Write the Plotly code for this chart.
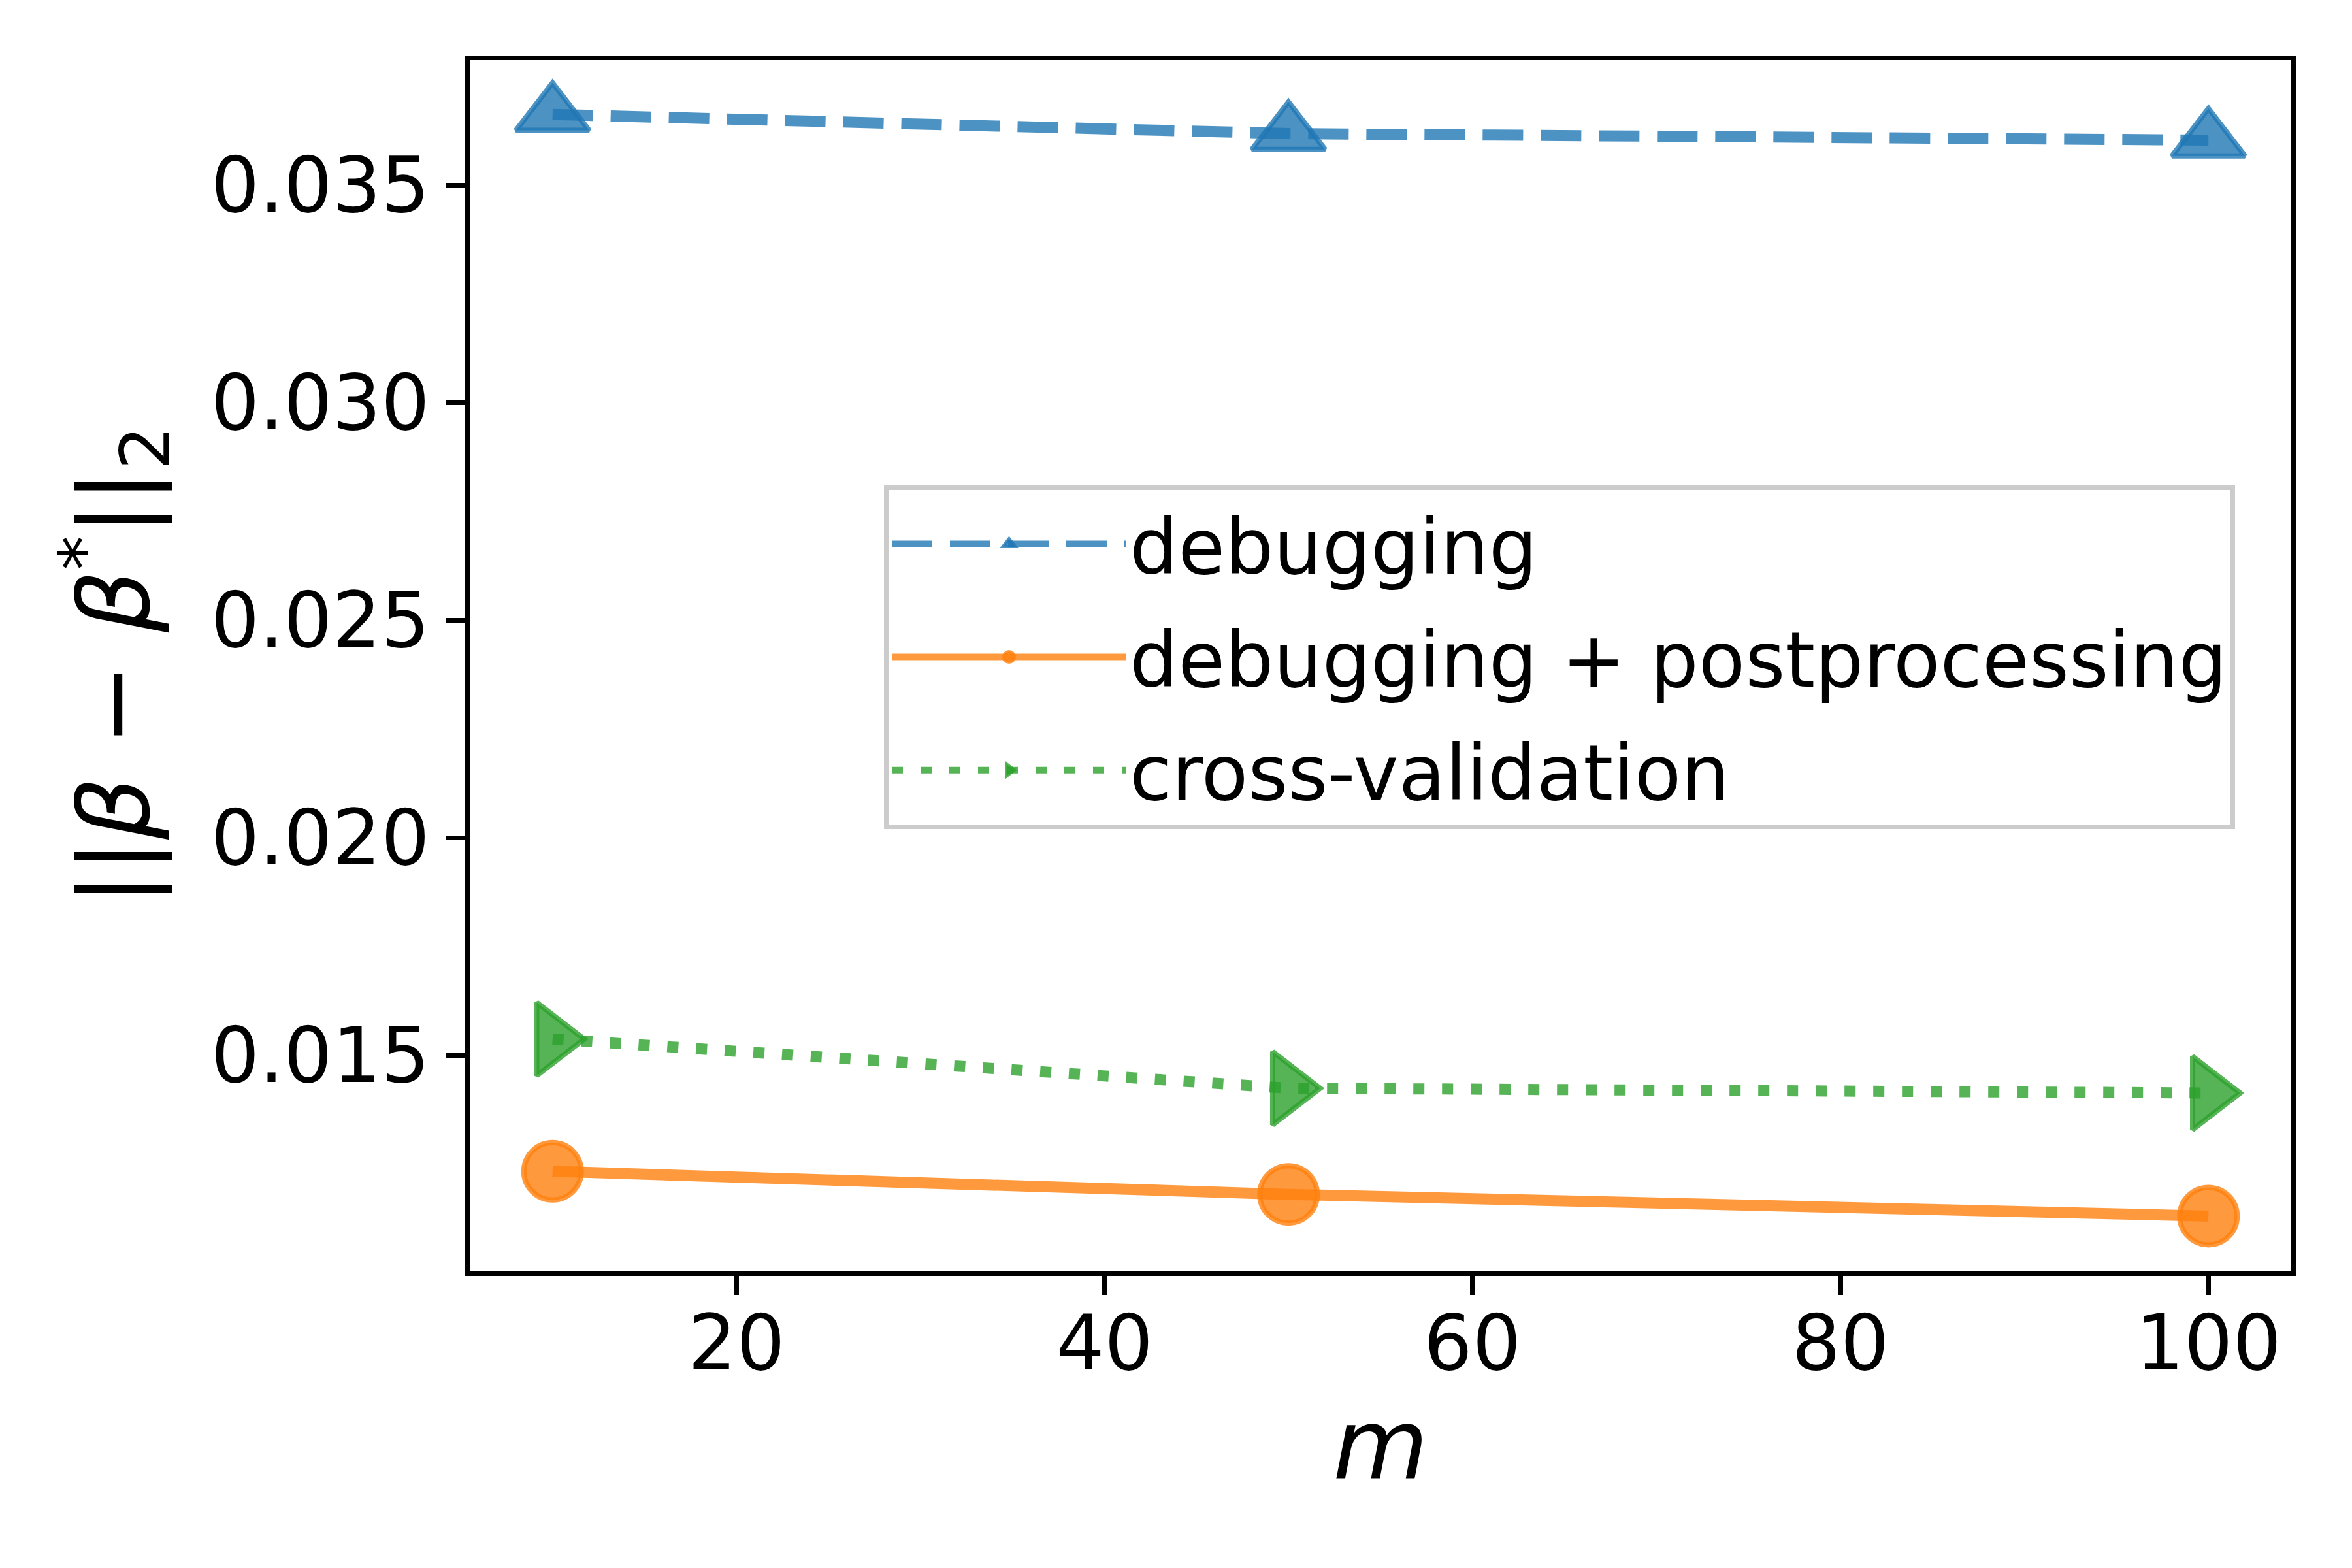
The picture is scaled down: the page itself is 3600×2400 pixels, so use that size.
import plotly.graph_objects as go

# ---- data ----
m_values = [10, 50, 100]
debugging = [0.03662, 0.03618, 0.03603]
debug_post = [0.01233, 0.01180, 0.01130]
cross_val = [0.01537, 0.01424, 0.01413]

x_ticks = [20, 40, 60, 80, 100]
y_ticks = [0.015, 0.020, 0.025, 0.030, 0.035]
series_names = ["debugging", "debugging + postprocessing", "cross-validation"]

FONT = "DejaVu Sans"
TICK_SIZE = 117
LABEL_SIZE = 150

blue = "rgba(31,119,180,0.8)"
orange = "rgba(255,127,14,0.8)"
green = "rgba(44,160,44,0.8)"

fig = go.Figure()

fig.add_trace(go.Scatter(
    x=m_values, y=debugging, name=series_names[0], mode="lines+markers",
    line=dict(color=blue, width=17, dash="62px,27px"),
    marker=dict(symbol="triangle-up", size=97, color=blue,
                line=dict(color=blue, width=8)),
    legendgroup="a",
))
fig.add_trace(go.Scatter(
    x=m_values, y=debug_post, name=series_names[1], mode="lines+markers",
    line=dict(color=orange, width=17),
    marker=dict(symbol="circle", size=88, color=orange,
                line=dict(color=orange, width=8)),
    legendgroup="b",
))
fig.add_trace(go.Scatter(
    x=m_values, y=cross_val, name=series_names[2], mode="lines+markers",
    line=dict(color=green, width=17, dash="17px,27px"),
    marker=dict(symbol="triangle-right", size=97, color=green,
                line=dict(color=green, width=8)),
    legendgroup="c",
))

axis_common = dict(
    showline=True, linewidth=7, linecolor="black", mirror=True,
    ticks="outside", ticklen=29, tickwidth=7, tickcolor="black",
    showgrid=False, zeroline=False,
    tickfont=dict(family=FONT, size=TICK_SIZE, color="black"),
)

fig.update_xaxes(
    range=[5.5, 104.5], tickvals=x_ticks,
    ticklabelstandoff=-26,
    title=dict(text="<i>m</i>", font=dict(family=FONT, size=LABEL_SIZE, color="black"),
               standoff=12),
    **axis_common,
)
fig.update_yaxes(
    range=[0.01003, 0.03787], tickvals=y_ticks, tickformat=".3f",
    ticklabelstandoff=2,
    title=dict(text="||<i>β</i> − <i>β</i><sup>*</sup>||<sub>2</sub>",
               font=dict(family=FONT, size=LABEL_SIZE, color="black"),
               standoff=46),
    **axis_common,
)

fig.update_layout(
    width=3600, height=2400,
    margin=dict(l=711, r=101, t=84, b=462),
    paper_bgcolor="white", plot_bgcolor="white",
    font=dict(family=FONT, color="black"),
    showlegend=True,
    legend=dict(
        x=0.2274, y=0.6489, xanchor="left", yanchor="top",
        bgcolor="rgba(255,255,255,0.8)", bordercolor="#cccccc", borderwidth=7,
        font=dict(family=FONT, size=TICK_SIZE, color="black"),
        itemsizing="trace", itemwidth=359, tracegroupgap=18,
    ),
)

fig.write_html("out.html")
